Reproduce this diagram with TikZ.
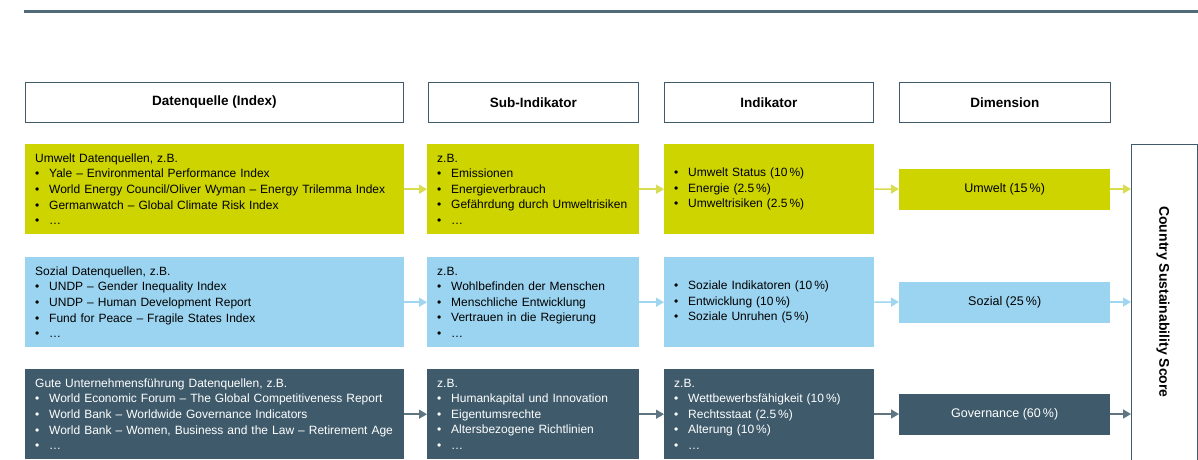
\documentclass[tikz,border=0pt]{standalone}
\usepackage{fontspec}
\setmainfont{Liberation Sans}
\usetikzlibrary{arrows.meta}

\definecolor{umweltgreen}{RGB}{205,212,0}
\definecolor{sozialblue}{RGB}{155,212,240}
\definecolor{govslate}{RGB}{63,91,107}
\definecolor{greenarrow}{RGB}{215,220,80}
\definecolor{bluearrow}{RGB}{160,214,240}
\definecolor{slatearrow}{RGB}{95,118,130}

\newcommand{\bul}{\makebox[14pt][l]{\textbullet}}

\begin{document}
\begin{tikzpicture}[x=1pt,y=-1pt]

    \tikzset{
      head/.style={
        draw=govslate,
        line width=0.7pt,
        anchor=north west,
        minimum height=40pt,
        font=\fontsize{13.5}{15}\selectfont\bfseries,
      },
      rowbox/.style={
        rectangle,
        anchor=north west,
        inner xsep=10pt,
        inner ysep=0pt,
        minimum height=90pt,
        align=left,
        font=\fontsize{12}{15.6}\selectfont,
      },
      dimbox/.style={
        anchor=west,
        minimum width=211pt,
        minimum height=41pt,
        font=\fontsize{12.5}{14}\selectfont,
      },
      flow/.style={
        line width=1.5pt,
        -{Triangle[length=8pt,width=9pt]},
      },
    }
    \useasboundingbox (0,0) rectangle (1198,459);
    \clip (0,0) rectangle (1198,459);

    % top rule
    \draw[govslate!90,line width=3pt] (24,11) -- (1198,11);

    % column heads
    \node[head,minimum width=378pt] (hquelle) at (25,82) {Datenquelle (Index)};
    \node[head,minimum width=210pt] (hsub) at (428,82) {Sub-Indikator};
    \node[head,minimum width=209pt] (hind) at (664,82) {Indikator};
    \node[head,minimum width=211pt] (hdim) at (899,82) {Dimension};

    % Umwelt
    \node[rowbox,fill=umweltgreen,text width=359pt] (uquelle) at (25,144) {Umwelt Datenquellen, z.B.\\
      \bul Yale -- Environmental Performance Index\\
      \bul World Energy Council/Oliver Wyman -- Energy Trilemma Index\\
      \bul Germanwatch -- Global Climate Risk Index\\
      \bul \dots};
    \node[rowbox,fill=umweltgreen,text width=192pt] (usub) at (427,144) {z.B.\\
      \bul Emissionen\\
      \bul Energieverbrauch\\
      \bul Gefährdung durch Umweltrisiken\\
      \bul \dots};
    \node[rowbox,fill=umweltgreen,text width=190pt] (uind) at (664,144) {\bul Umwelt Status (10\,\%)\\
      \bul Energie (2.5\,\%)\\
      \bul Umweltrisiken (2.5\,\%)};
    \node[dimbox,fill=umweltgreen] (udim) at (899,189) {Umwelt (15\,\%)};

    % Sozial
    \node[rowbox,fill=sozialblue,text width=359pt] (squelle) at (25,257) {Sozial Datenquellen, z.B.\\
      \bul UNDP -- Gender Inequality Index\\
      \bul UNDP -- Human Development Report\\
      \bul Fund for Peace -- Fragile States Index\\
      \bul \dots};
    \node[rowbox,fill=sozialblue,text width=192pt] (ssub) at (427,257) {z.B.\\
      \bul Wohlbefinden der Menschen\\
      \bul Menschliche Entwicklung\\
      \bul Vertrauen in die Regierung\\
      \bul \dots};
    \node[rowbox,fill=sozialblue,text width=190pt] (sind) at (664,257) {\bul Soziale Indikatoren (10\,\%)\\
      \bul Entwicklung (10\,\%)\\
      \bul Soziale Unruhen (5\,\%)};
    \node[dimbox,fill=sozialblue] (sdim) at (899,302) {Sozial (25\,\%)};

    % Governance
    \node[rowbox,fill=govslate,text=white,text width=359pt] (gquelle) at (25,369) {Gute Unternehmensführung Datenquellen, z.B.\\
      \bul World Economic Forum -- The Global Competitiveness Report\\
      \bul World Bank -- Worldwide Governance Indicators\\
      \bul World Bank -- Women, Business and the Law -- Retirement Age\\
      \bul \dots};
    \node[rowbox,fill=govslate,text=white,text width=192pt] (gsub) at (427,369) {z.B.\\
      \bul Humankapital und Innovation\\
      \bul Eigentumsrechte\\
      \bul Altersbezogene Richtlinien\\
      \bul \dots};
    \node[rowbox,fill=govslate,text=white,text width=190pt] (gind) at (664,369) {z.B.\\
      \bul Wettbewerbsfähigkeit (10\,\%)\\
      \bul Rechtsstaat (2.5\,\%)\\
      \bul Alterung (10\,\%)\\
      \bul \dots};
    \node[dimbox,fill=govslate,text=white] (gdim) at (899,414) {Governance (60\,\%)};

    % score
    \node[draw=govslate,line width=0.7pt,anchor=north west,minimum width=66pt,minimum height=340pt] (score) at (1131,144) {};
    \node[rotate=-90,font=\fontsize{14}{16}\selectfont\bfseries] (scoretext) at (1163,302) {Country Sustainability Score};

    % arrows
    \draw[flow,greenarrow] (uquelle) -- (usub);
    \draw[flow,greenarrow] (usub) -- (uind);
    \draw[flow,greenarrow] (uind.east) -- (udim.west);
    \draw[flow,greenarrow] (udim.east) -- (udim.east -| score.west);
    \draw[flow,bluearrow] (squelle) -- (ssub);
    \draw[flow,bluearrow] (ssub) -- (sind);
    \draw[flow,bluearrow] (sind.east) -- (sdim.west);
    \draw[flow,bluearrow] (sdim.east) -- (sdim.east -| score.west);
    \draw[flow,slatearrow] (gquelle) -- (gsub);
    \draw[flow,slatearrow] (gsub) -- (gind);
    \draw[flow,slatearrow] (gind.east |- gdim.west) -- (gdim.west);
    \draw[flow,slatearrow] (gdim.east) -- (gdim.east -| score.west);

\end{tikzpicture}
\end{document}
